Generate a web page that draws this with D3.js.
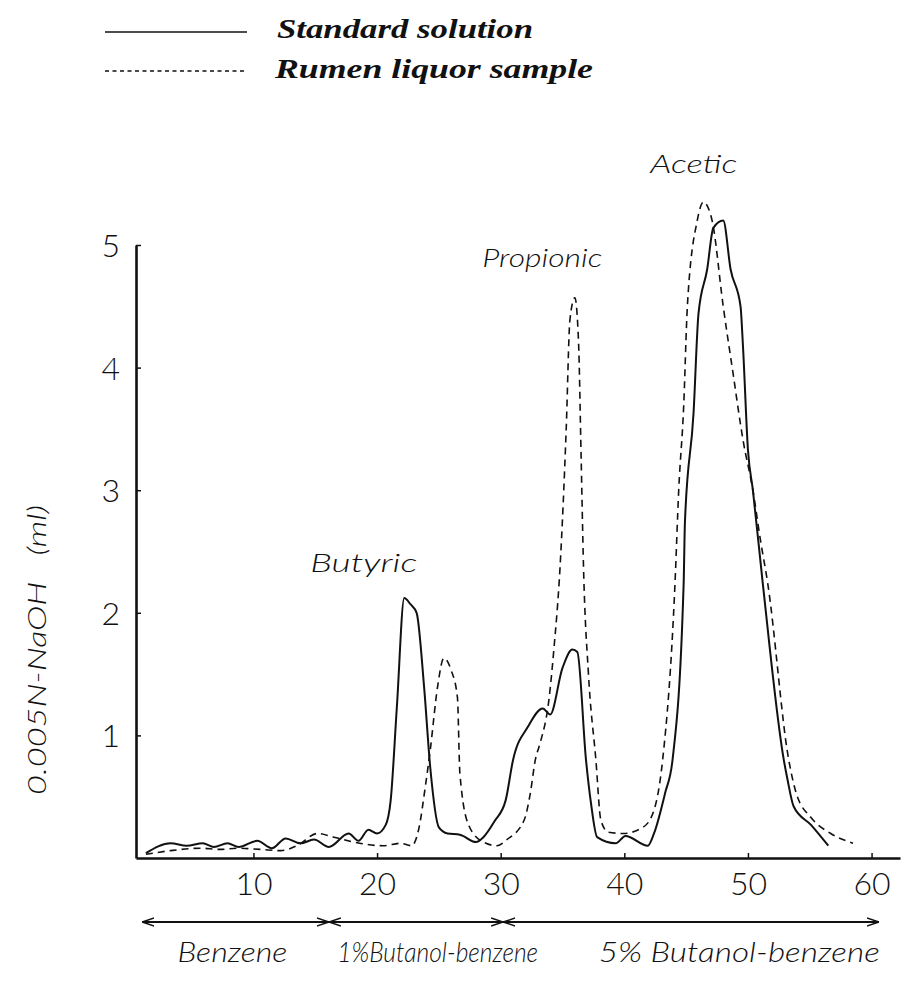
<!DOCTYPE html>
<html>
<head>
<meta charset="utf-8">
<script src="https://cdn.jsdelivr.net/npm/d3@7"></script>
<style>
  body { margin: 0; background: #fff; }
  svg { display: block; }
</style>
</head>
<body>
<div id="wrapper"></div>
<script>

// 1. Data (fraction number, ml of 0.005N NaOH)

const standardSolution = [
    [1.3, 0.04], [3.3, 0.12], [4.6, 0.10], [5.9, 0.12], [6.8, 0.09], [7.9, 0.12],
    [8.8, 0.09], [10.3, 0.14], [11.5, 0.08], [12.6, 0.16], [13.8, 0.12], [14.9, 0.15],
    [16.1, 0.09], [17.7, 0.20], [18.5, 0.14], [19.3, 0.23], [20.0, 0.20], [20.7, 0.27],
    [21.1, 0.47], [21.6, 1.23], [22.2, 2.12], [22.7, 2.07], [23.2, 2.00], [23.8, 1.40],
    [24.3, 0.74], [25.0, 0.25], [25.7, 0.20], [26.7, 0.19], [28.0, 0.13], [28.6, 0.17],
    [29.5, 0.30], [30.4, 0.47], [31.0, 0.80], [32.2, 1.07], [33.4, 1.22], [34.0, 1.17],
    [35.0, 1.55], [35.8, 1.70], [36.2, 1.68], [36.9, 0.80], [37.3, 0.45], [37.8, 0.17],
    [39.3, 0.12], [40.1, 0.18], [41.9, 0.10], [42.4, 0.20], [43.3, 0.53], [43.9, 0.80],
    [44.8, 2.24], [44.9, 2.73], [45.6, 3.63], [46.0, 4.44], [46.7, 4.80], [47.2, 5.14],
    [48.0, 5.20], [48.6, 4.80], [49.4, 4.50], [49.6, 4.17], [50.0, 3.33], [50.4, 3.00],
    [51.2, 2.24], [52.9, 0.80], [53.2, 0.64], [53.7, 0.42], [55.1, 0.27], [56.5, 0.10]
]

const rumenSample = [
    [1.3, 0.03], [3.3, 0.06], [5.7, 0.08], [7.3, 0.07], [8.7, 0.08], [10.6, 0.07],
    [12.2, 0.06], [13.5, 0.10], [15.2, 0.20], [16.5, 0.17], [18.1, 0.13], [20.5, 0.10],
    [21.9, 0.12], [22.8, 0.10], [23.4, 0.25], [23.9, 0.58], [24.3, 0.88], [24.9, 1.40],
    [25.4, 1.63], [26.0, 1.53], [26.5, 1.31], [26.7, 0.69], [27.4, 0.27], [28.6, 0.13],
    [29.7, 0.10], [30.5, 0.15], [31.9, 0.31], [32.4, 0.53], [32.8, 0.80], [33.2, 0.94],
    [33.9, 1.29], [34.3, 1.70], [34.8, 2.37], [35.3, 3.50], [35.6, 4.39], [36.0, 4.57],
    [36.3, 4.20], [36.5, 3.30], [36.7, 2.37], [37.1, 1.50], [37.7, 0.80], [38.1, 0.31],
    [38.7, 0.21], [39.9, 0.20], [41.5, 0.25], [42.4, 0.39], [43.1, 0.80], [44.1, 2.24],
    [44.4, 3.00], [44.8, 3.68], [45.1, 4.50], [45.9, 5.20], [46.4, 5.35], [47.1, 5.20],
    [48.0, 4.50], [48.8, 3.95], [49.6, 3.41], [50.4, 3.00], [51.0, 2.60], [51.6, 2.24],
    [53.3, 0.80], [53.9, 0.53], [55.1, 0.33], [56.7, 0.20], [58.5, 0.12]
]

const xTicks = [10, 20, 30, 40, 50, 60]
const yTicks = [1, 2, 3, 4, 5]

const legendLabels = ["Standard solution", "Rumen liquor sample"]

// peak names: [label, x value at left edge, y value at baseline]
const peakLabels = [
    ["Butyric", 14.6, 2.33],
    ["Propionic", 28.5, 4.82],
    ["Acetic", 42.1, 5.59]
]

// eluent ranges along the x axis
const solventRanges = [
    ["Benzene", 1.0, 16.1],
    ["1%Butanol-benzene", 16.1, 30.2],
    ["5% Butanol-benzene", 30.2, 60.6]
]

const xAccessor = d => d[0]
const yAccessor = d => d[1]

// 2. dims

let dims = {
    width: 901,
    height: 981,
    margin: { top: 245, right: 1, bottom: 123, left: 136 }
}
dims.boundedWidth = dims.width - dims.margin.left - dims.margin.right
dims.boundedHeight = dims.height - dims.margin.top - dims.margin.bottom

const handFont = "Lato, 'Open Sans', 'DejaVu Sans', sans-serif"

// 3. canvas

const wrapper = d3.select("#wrapper")
    .append("svg")
    .attr("width", dims.width)
    .attr("height", dims.height)

const bounds = wrapper.append("g")
    .attr("transform", `translate(${dims.margin.left}, ${dims.margin.top})`)

// 4. scales

const xScale = d3.scaleLinear()
    .domain([0.5, 62.3])
    .range([0, dims.boundedWidth])

const yScale = d3.scaleLinear()
    .domain([0, 5])
    .range([dims.boundedHeight, 0])

// 5. draw data

const lineGenerator = d3.line()
    .x(d => xScale(xAccessor(d)))
    .y(d => yScale(yAccessor(d)))
    .curve(d3.curveMonotoneX)

bounds.append("path")
    .attr("d", lineGenerator(standardSolution))
    .attr("fill", "none")
    .attr("stroke", "#111")
    .attr("stroke-width", 2)
    .attr("stroke-linejoin", "round")

bounds.append("path")
    .attr("d", lineGenerator(rumenSample))
    .attr("fill", "none")
    .attr("stroke", "#111")
    .attr("stroke-width", 1.6)
    .attr("stroke-dasharray", "7,5")

// 6. axes

const xAxisGenerator = d3.axisBottom(xScale)
    .tickValues(xTicks)
    .tickSizeInner(-5)
    .tickSizeOuter(0)

const xAxis = bounds.append("g")
    .attr("transform", `translate(0, ${dims.boundedHeight})`)
    .call(xAxisGenerator)

xAxis.selectAll("text")
    .attr("y", 37)
    .attr("dy", 0)
    .style("font-family", handFont)
    .style("font-weight", 300)
    .style("font-size", "32px")
    .attr("fill", "#111")

const yAxisGenerator = d3.axisLeft(yScale)
    .tickValues(yTicks)
    .tickFormat(d3.format("d"))
    .tickSizeInner(-5)
    .tickSizeOuter(0)

const yAxis = bounds.append("g")
    .call(yAxisGenerator)

yAxis.selectAll("text")
    .attr("x", -16)
    .attr("dy", "0.36em")
    .style("font-family", handFont)
    .style("font-weight", 300)
    .style("font-size", "32px")
    .attr("fill", "#111")

wrapper.selectAll(".domain")
    .attr("stroke", "#111")
    .attr("stroke-width", 2.6)
wrapper.selectAll(".tick line")
    .attr("stroke", "#111")
    .attr("stroke-width", 1.5)

const yAxisLabel = wrapper.append("text")
    .attr("transform", "translate(46, 650) rotate(-90)")
    .attr("text-anchor", "middle")
    .attr("textLength", 290)
    .attr("lengthAdjust", "spacingAndGlyphs")
    .style("white-space", "pre")
    .style("font-family", handFont)
    .style("font-weight", 300)
    .style("font-style", "italic")
    .style("font-size", "26px")
    .attr("fill", "#111")
    .text("0.005N-NaOH   (ml)")

// 7. peak names

const peakWidths = { "Butyric": 107, "Propionic": 120, "Acetic": 87 }
bounds.selectAll(".peak")
    .data(peakLabels)
    .join("text")
    .attr("class", "peak")
    .attr("x", d => xScale(d[1]))
    .attr("y", d => yScale(d[2]))
    .attr("textLength", d => peakWidths[d[0]])
    .attr("lengthAdjust", "spacingAndGlyphs")
    .style("font-family", handFont)
    .style("font-weight", 300)
    .style("font-style", "italic")
    .style("font-size", "26px")
    .attr("fill", "#111")
    .text(d => d[0])

// 8. solvent arrows

const defs = wrapper.append("defs")
defs.append("marker")
    .attr("id", "head")
    .attr("viewBox", "0 0 12 10")
    .attr("refX", 12)
    .attr("refY", 5)
    .attr("markerWidth", 12)
    .attr("markerHeight", 10)
    .attr("markerUnits", "userSpaceOnUse")
    .attr("orient", "auto-start-reverse")
    .append("path")
    .attr("d", "M0,1 L12,5 L0,9")
    .attr("fill", "none")
    .attr("stroke", "#111")
    .attr("stroke-width", 1.4)

const arrowY = dims.boundedHeight + 64
bounds.selectAll(".range")
    .data(solventRanges)
    .join("line")
    .attr("class", "range")
    .attr("x1", d => xScale(d[1]))
    .attr("x2", d => xScale(d[2]))
    .attr("y1", arrowY)
    .attr("y2", arrowY)
    .attr("stroke", "#111")
    .attr("stroke-width", 1.8)
    .attr("marker-start", "url(#head)")
    .attr("marker-end", "url(#head)")

const rangeWidths = { "Benzene": 110, "1%Butanol-benzene": 201, "5% Butanol-benzene": 281 }
const rangeCenters = { "Benzene": 8.3, "1%Butanol-benzene": 24.9, "5% Butanol-benzene": 49.3 }
bounds.selectAll(".rangeLabel")
    .data(solventRanges)
    .join("text")
    .attr("class", "rangeLabel")
    .attr("x", d => xScale(rangeCenters[d[0]]))
    .attr("y", dims.boundedHeight + 104)
    .attr("text-anchor", "middle")
    .attr("textLength", d => rangeWidths[d[0]])
    .attr("lengthAdjust", "spacingAndGlyphs")
    .style("font-family", handFont)
    .style("font-weight", 300)
    .style("font-style", "italic")
    .style("font-size", "27px")
    .attr("fill", "#111")
    .text(d => d[0])

// 9. legend

const legend = wrapper.append("g")
legend.selectAll("line")
    .data(legendLabels)
    .join("line")
    .attr("x1", 105)
    .attr("x2", 247)
    .attr("y1", (d, i) => 32 + i * 39)
    .attr("y2", (d, i) => 32 + i * 39)
    .attr("stroke", "#111")
    .attr("stroke-width", (d, i) => i ? 1.3 : 1.6)
    .attr("stroke-dasharray", (d, i) => i ? "4,3.5" : null)

legend.selectAll("text")
    .data(legendLabels)
    .join("text")
    .attr("x", (d, i) => i ? 275 : 277)
    .attr("y", (d, i) => 38 + i * 40)
    .attr("textLength", (d, i) => i ? 318 : 256)
    .attr("lengthAdjust", "spacingAndGlyphs")
    .style("font-family", "'Liberation Serif', 'DejaVu Serif', serif")
    .style("font-weight", "bold")
    .style("font-style", "italic")
    .style("font-size", "27px")
    .attr("fill", "#111")
    .text(d => d)

</script>
</body>
</html>
